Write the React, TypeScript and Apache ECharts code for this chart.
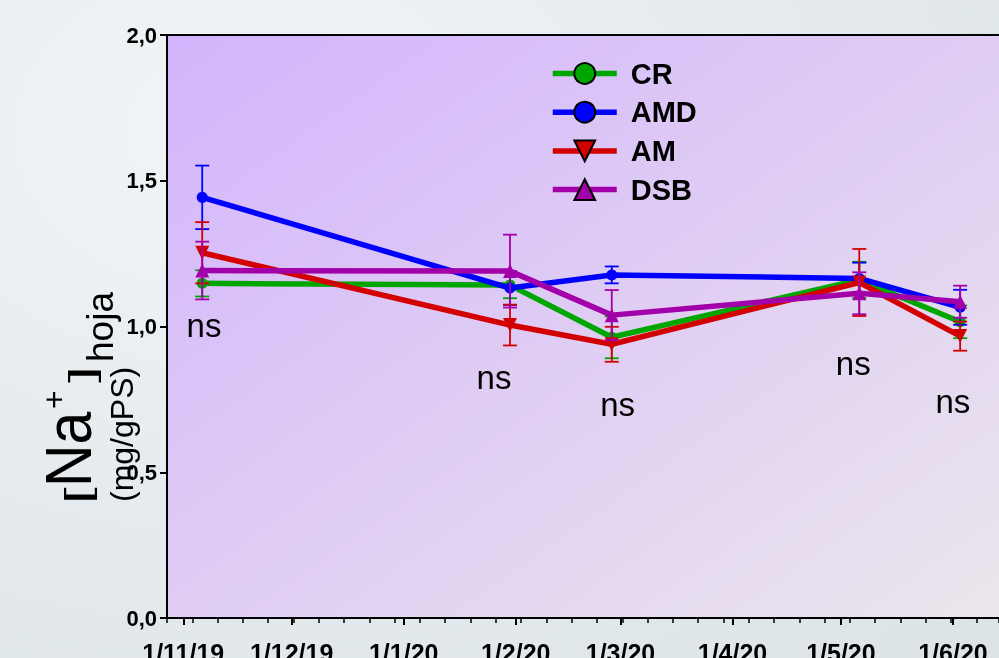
import React, { useEffect, useRef } from 'react';
import * as echarts from 'echarts';

const FONT = '"Liberation Sans", Arial, Helvetica, sans-serif';

// Sampling dates of the four treatments
const sampleDates = ['2019-11-06T06:00:00Z', '2020-01-30T10:00:00Z', '2020-02-27T14:00:00Z', '2020-05-06T02:00:00Z', '2020-06-03T00:00:00Z'];
const seriesNames = ['CR', 'AMD', 'AM', 'DSB'];
const seriesColors = ['#00a600', '#0000ff', '#d20000', '#a200a8'];

// [Na+] leaf (mg/gPS): mean and error-bar half-widths
const crMean = [1.148, 1.142, 0.963, 1.160, 1.016];
const crErr = [0.045, 0.045, 0.072, 0.062, 0.056];
const amdMean = [1.443, 1.132, 1.177, 1.165, 1.066];
const amdErr = [0.109, 0.058, 0.029, 0.054, 0.060];
const amMean = [1.253, 1.005, 0.939, 1.151, 0.967];
const amErr = [0.105, 0.070, 0.060, 0.115, 0.050];
const dsbMean = [1.192, 1.190, 1.039, 1.114, 1.085];
const dsbErr = [0.099, 0.125, 0.086, 0.072, 0.055];

// "ns" annotations
const nsDates = ['2019-11-06T18:00:00Z', '2020-01-26T00:00:00Z', '2020-02-29T05:00:00Z', '2020-05-04T10:00:00Z', '2020-06-01T00:00:00Z'];
const nsY = [1.002, 0.825, 0.731, 0.872, 0.743];
const nsText = ['ns', 'ns', 'ns', 'ns', 'ns'];

// Axis ticks
const monthTickLabels = ['1/11/19', '1/12/19', '1/1/20', '1/2/20', '1/3/20', '1/4/20', '1/5/20', '1/6/20'];
const xRange = ['2019-10-27T12:00:00Z', '2020-06-13T18:00:00Z'];
const yTicks = [0, 0.5, 1.0, 1.5, 2.0];

const ts = (s: string) => new Date(s).getTime();
const parseDMY = (s: string) => {
  const [d, m, y] = s.split('/').map(Number);
  return Date.UTC(2000 + y, m - 1, d);
};
const WEEK = 7 * 24 * 3600 * 1000;

export default function App() {
  const ref = useRef<HTMLDivElement>(null);

  useEffect(() => {
    if (!ref.current) return;
    const chart = echarts.init(ref.current, undefined, { renderer: 'svg' });
    const xMin = ts(xRange[0]);
    const xMax = ts(xRange[1]);
    const monthTs = monthTickLabels.map(parseDMY);
    const means = [crMean, amdMean, amMean, dsbMean];
    const errs = [crErr, amdErr, amErr, dsbErr];
    const symbols = ['circle', 'circle', 'triangle', 'triangle'];
    const rotates = [0, 0, 180, 0];
    const sizes = [11, 11, 14, 14];

    const series: any[] = [];
    seriesNames.forEach((name, si) => {
      const color = seriesColors[si];
      series.push({
        type: 'line',
        name,
        data: sampleDates.map((d, i) => [ts(d), means[si][i]]),
        symbol: symbols[si],
        symbolRotate: rotates[si],
        symbolSize: sizes[si],
        showSymbol: true,
        lineStyle: { width: 5.5, color },
        itemStyle: { color, borderWidth: 0 },
        z: 2 + si,
      });
      series.push({
        type: 'custom',
        name: name + '-err',
        data: sampleDates.map((d, i) => [ts(d), means[si][i] - errs[si][i], means[si][i] + errs[si][i]]),
        encode: { x: 0, y: [1, 2] },
        z: 2 + si,
        silent: true,
        renderItem: (params: any, api: any) => {
          const x = api.value(0);
          const lo = api.coord([x, api.value(1)]);
          const hi = api.coord([x, api.value(2)]);
          const hw = 7;
          const st = { stroke: color, lineWidth: 1.8 };
          return {
            type: 'group',
            children: [
              { type: 'line', shape: { x1: lo[0], y1: lo[1], x2: hi[0], y2: hi[1] }, style: st },
              { type: 'line', shape: { x1: lo[0] - hw, y1: lo[1], x2: lo[0] + hw, y2: lo[1] }, style: st },
              { type: 'line', shape: { x1: hi[0] - hw, y1: hi[1], x2: hi[0] + hw, y2: hi[1] }, style: st },
            ],
          };
        },
      });
    });

    series.push({
      type: 'scatter',
      name: 'ns',
      data: nsDates.map((d, i) => [ts(d), nsY[i], nsText[i]]),
      symbolSize: 1,
      itemStyle: { color: 'rgba(0,0,0,0)', opacity: 1 },
      silent: true,
      z: 10,
      label: {
        show: true,
        position: 'inside',
        formatter: (p: any) => p.value[2],
        fontSize: 33,
        color: '#000',
        fontFamily: FONT,
      },
    });

    const rot = Math.PI / 2;
    const tstyle = (text: string, size: number, extra: any = {}) => ({
      text,
      fontSize: size,
      fontFamily: FONT,
      fill: '#000',
      align: 'left',
      verticalAlign: 'middle',
      ...extra,
    });

    const option: any = {
      animation: false,
      backgroundColor: 'transparent',
      textStyle: { fontFamily: FONT },
      grid: {
        left: 167,
        top: 35,
        right: 0,
        bottom: 40,
        show: true,
        borderWidth: 0,
        containLabel: false,
        outerBoundsMode: 'none',
        backgroundColor: new echarts.graphic.LinearGradient(0, 0, 1, 1, [
          { offset: 0, color: '#d3b4fd' },
          { offset: 0.5, color: '#dfcdf4' },
          { offset: 1, color: '#ebe6ec' },
        ]),
      },
      xAxis: [
        {
          type: 'value',
          position: 'bottom',
          min: xMin,
          max: xMax,
          axisLine: { show: true, onZero: false, lineStyle: { color: '#000', width: 2 } },
          axisTick: { show: true, customValues: monthTs, length: 7, lineStyle: { color: '#000', width: 2 } },
          axisLabel: {
            show: true,
            customValues: monthTs,
            formatter: (v: number) => {
              const i = monthTs.findIndex((m) => Math.abs(m - v) < 1000);
              return i >= 0 ? monthTickLabels[i] : '';
            },
            fontSize: 25,
            fontWeight: 'bold',
            color: '#000',
            fontFamily: FONT,
            margin: 22,
          },
          splitLine: { show: false },
        },
        {
          type: 'value',
          position: 'bottom',
          min: xMin,
          max: xMax,
          interval: WEEK,
          axisLine: { show: false },
          axisTick: { show: true, length: 5, lineStyle: { color: '#000', width: 1.5 } },
          axisLabel: { show: false },
          splitLine: { show: false },
        },
        {
          type: 'value',
          position: 'top',
          min: xMin,
          max: xMax,
          axisLine: { show: true, onZero: false, lineStyle: { color: '#000', width: 2 } },
          axisTick: { show: false },
          axisLabel: { show: false },
          splitLine: { show: false },
        },
      ],
      yAxis: {
        type: 'value',
        min: yTicks[0],
        max: yTicks[yTicks.length - 1],
        interval: yTicks[1] - yTicks[0],
        axisLine: { show: true, lineStyle: { color: '#000', width: 2 } },
        axisTick: { show: true, length: 7, lineStyle: { color: '#000', width: 2 } },
        axisLabel: {
          formatter: (v: number) => v.toFixed(1).replace('.', ','),
          fontSize: 22,
          fontWeight: 'bold',
          color: '#000',
          fontFamily: FONT,
          margin: 10,
        },
        splitLine: { show: false },
      },
      legend: {
        orient: 'vertical',
        left: 550,
        top: 59,
        padding: 0,
        itemWidth: 64,
        itemHeight: 26,
        itemGap: 9.7,
        data: seriesNames,
        selectedMode: false,
        itemStyle: { borderColor: '#000', borderWidth: 2 },
        lineStyle: { width: 5.5 },
        textStyle: { fontSize: 29, fontWeight: 'bold', color: '#000', fontFamily: FONT, padding: [0, 0, 0, 9] },
      },
      graphic: [
        { type: 'text', x: 77, y: 504, rotation: rot, scaleY: 0.6, style: tstyle('[', 60) },
        { type: 'text', x: 68.5, y: 487, rotation: rot, scaleY: 1.1, style: tstyle('Na', 59) },
        { type: 'text', x: 53.5, y: 409, rotation: rot, style: tstyle('+', 32) },
        { type: 'text', x: 81.4, y: 383, rotation: rot, scaleY: 0.6, style: tstyle(']', 60) },
        { type: 'text', x: 100, y: 362, rotation: rot, style: tstyle('hoja', 37) },
        { type: 'text', x: 122, y: 502, rotation: rot, style: tstyle('(mg/gPS)', 32) },
      ],
      series,
    };
    chart.setOption(option);
    return () => chart.dispose();
  }, []);

  return (
    <div
      style={{
        position: 'fixed',
        left: 0,
        top: 0,
        width: 999,
        height: 658,
        background: 'radial-gradient(ellipse at 25% 20%, #f1f5f6 0%, #e4eaed 55%, #dce3e6 100%)',
      }}
    >
      <div ref={ref} style={{ width: 999, height: 658 }} />
    </div>
  );
}
